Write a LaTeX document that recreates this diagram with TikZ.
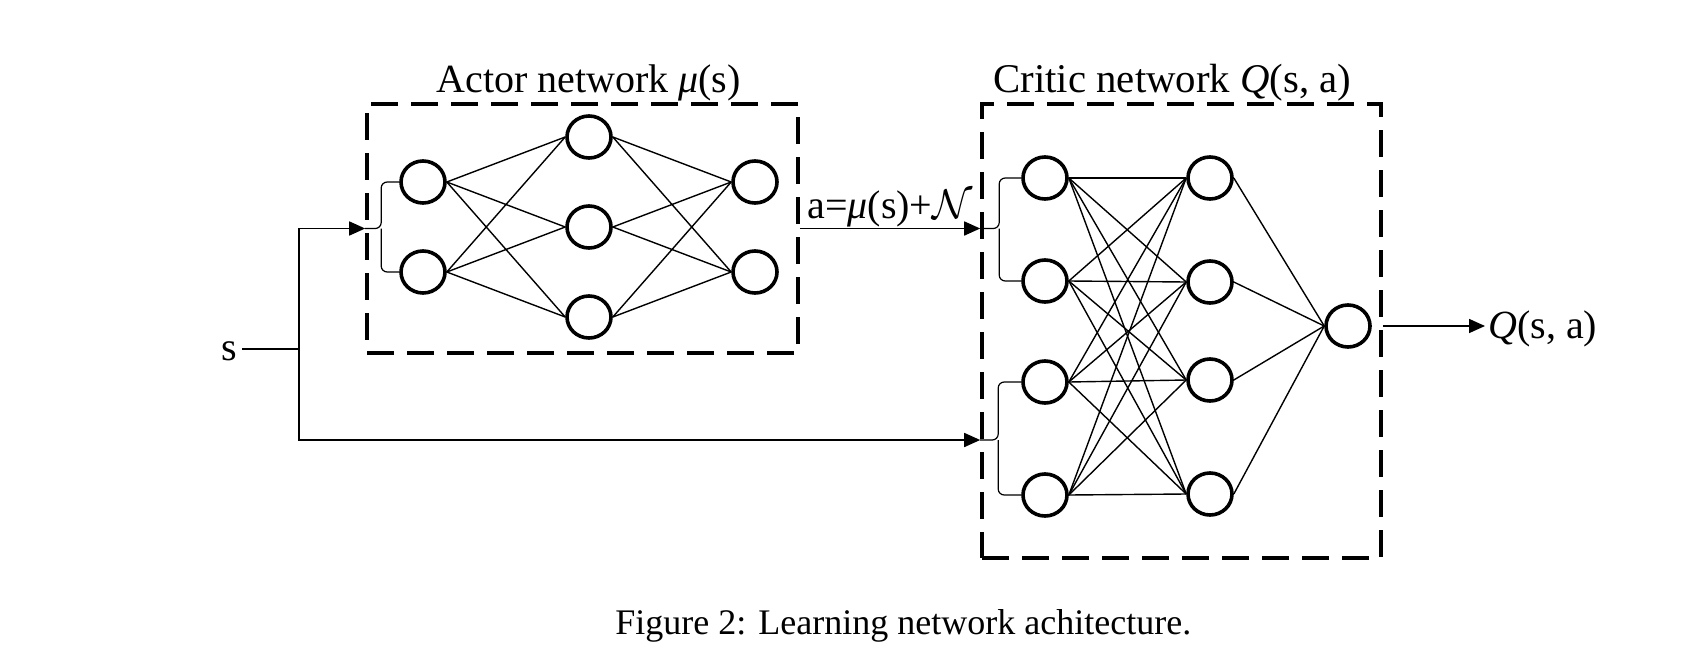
\documentclass[tikz,border=0pt]{standalone}
\usepackage{fontspec}
\setmainfont{Liberation Serif}
\usetikzlibrary{arrows.meta,shapes.geometric}
\begin{document}
\begin{tikzpicture}[x=0.5pt,y=-0.5pt,
  neuron/.style={draw, line width=1.8pt, ellipse, minimum width=22pt, minimum height=21pt, inner sep=0pt},
  link/.style={line width=0.7pt},
  netbox/.style={draw, dash pattern=on 13.5pt off 6.5pt, line width=1.8pt, inner sep=0pt},
  wire/.style={line width=0.8pt},
  arr/.style={wire, -{Triangle[length=8pt,width=7pt]}},
  brace/.style={line width=0.6pt, rounded corners=3pt},
  lbl/.style={inner sep=0pt, font=\fontsize{20pt}{24pt}\selectfont}]

\useasboundingbox (0,0) rectangle (1684,658);

% boxes
\node[netbox, minimum width=215.5pt, minimum height=124.5pt] (actorbox) at (582.5,228.5) {};
\node[netbox, minimum width=199.5pt, minimum height=227pt] (criticbox) at (1181.5,331) {};

% actor neurons
\node[neuron] (a1) at (423,182) {};
\node[neuron] (a2) at (423,272) {};
\node[neuron] (h1) at (589,137) {};
\node[neuron] (h2) at (589,227) {};
\node[neuron] (h3) at (589,317) {};
\node[neuron] (o1) at (755,182) {};
\node[neuron] (o2) at (755,272) {};

% critic neurons
\node[neuron] (c1) at (1045,178) {};
\node[neuron] (c2) at (1045,281) {};
\node[neuron] (c3) at (1045,382) {};
\node[neuron] (c4) at (1045,495) {};
\node[neuron] (d1) at (1210,178) {};
\node[neuron] (d2) at (1210,282) {};
\node[neuron] (d3) at (1210,380) {};
\node[neuron] (d4) at (1210,494) {};
\node[neuron] (q) at (1348,326) {};

% actor links
\foreach \i in {a1,a2} \foreach \j in {h1,h2,h3} \draw[link] (\i.east) -- (\j.west);
\foreach \i in {h1,h2,h3} \foreach \j in {o1,o2} \draw[link] (\i.east) -- (\j.west);
% critic links
\foreach \i in {c1,c2,c3,c4} \foreach \j in {d1,d2,d3,d4} \draw[link] (\i.east) -- (\j.west);
\foreach \i in {d1,d2,d3,d4} \draw[link] (\i.east) -- (q.west);

% labels
\node[lbl, anchor=base west] (atitle) at (436,93) {Actor network \textit{μ}(s)};
\node[lbl, anchor=base west, font=\fontsize{20.4pt}{24pt}\selectfont] (ctitle) at (993,93) {Critic network \textit{Q}(s, a)};
\node[lbl, anchor=base east] (alab) at (973,218) {a=\textit{μ}(s)+$\mathcal{N}$};
\node[lbl, anchor=base west] (qlab) at (1488,338) {\textit{Q}(s, a)};
\node[lbl, anchor=base east] (slab) at (237,360) {s};
\node[inner sep=0pt, font=\fontsize{18pt}{22pt}\selectfont, anchor=base west] (cap) at (615,634) {Figure 2: Learning network achitecture.};

% connectors
\coordinate (sj) at (299,349);
\coordinate (sb) at (299,440);
\coordinate (cin1) at (actorbox.east -| criticbox.west);
\coordinate (cin2) at (sb -| criticbox.west);
\draw[wire, shorten <=2.5pt] (slab.east |- sj) -- (sj);
\draw[arr] (sj) |- (actorbox.west);
\draw[arr] (sj) -- (sb) -- (cin2);
\draw[arr] (actorbox.east) -- (cin1);
\draw[arr, shorten >=1.5pt] (criticbox.east |- q) -- (qlab.west |- q);

% braces
\draw[brace] (actorbox.west) -- ([xshift=8pt]actorbox.west) |- (a1.west);
\draw[brace] ([xshift=8pt]actorbox.west) |- (a2.west);
\draw[brace] (cin1) -- ([xshift=9.5pt]cin1) |- (c1.west);
\draw[brace] ([xshift=9.5pt]cin1) |- (c2.west);
\draw[brace] (cin2) -- ([xshift=9pt]cin2) |- (c3.west);
\draw[brace] ([xshift=9pt]cin2) |- (c4.west);
\end{tikzpicture}
\end{document}
